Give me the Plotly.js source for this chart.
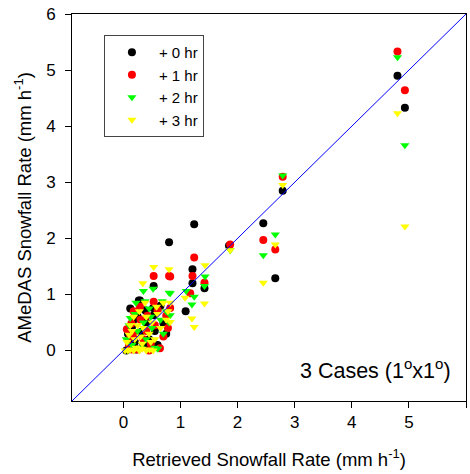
<!DOCTYPE html>
<html>
<head>
<meta charset="utf-8">
<script src="https://cdn.plot.ly/plotly-3.0.1.min.js"></script>
<style>html,body{margin:0;padding:0;background:#fff;}#chart{width:470px;height:474px;}</style>
</head>
<body>
<div id="chart"></div>
<script>
// Series names
const seriesNames = ["+ 0 hr", "+ 1 hr", "+ 2 hr", "+ 3 hr"];

// +0 hr (black circles)
const x0 = [4.80, 4.93, 2.79, 2.45, 2.66, 1.24, 0.80, 1.85, 1.21, 1.21, 1.42, 1.09, 0.53, 0.29, 0.52,
            0.05, 0.10, 0.15, 0.08, 0.20, 0.25, 0.31, 0.35, 0.40, 0.45, 0.53, 0.55, 0.60, 0.70, 0.27, 0.12, 0.18, 0.65, 0.75, 0.38, 0.22, 0.48];
const y0 = [4.90, 4.33, 2.85, 2.27, 1.29, 2.25, 1.93, 1.87, 1.45, 1.20, 1.11, 0.70, 1.15, 0.89, 0.76,
            0.00, 0.05, 0.42, 0.30, 0.15, 0.60, 0.33, 0.10, 0.50, 0.20, 0.63, 0.35, 0.10, 0.49, 0.89, 0.75, 0.55, 0.80, 0.30, 0.72, 0.02, 0.05];

// +1 hr (red circles)
const x1 = [4.80, 4.93, 2.79, 2.45, 2.66, 1.87, 1.24, 1.21, 1.42, 1.17, 0.53, 0.80, 0.82, 0.29, 0.53, 0.82,
            0.06, 0.10, 0.14, 0.20, 0.25, 0.30, 0.35, 0.42, 0.48, 0.55, 0.60, 0.64, 0.70, 0.75, 0.78, 0.18, 0.40, 0.15, 0.45, 0.12];
const y1 = [5.33, 4.64, 3.10, 1.97, 1.80, 1.89, 1.66, 1.33, 1.21, 1.02, 1.33, 1.33, 0.76, 0.78, 0.87, 1.32,
            0.38, 0.10, 0.48, 0.30, 0.02, 0.55, 0.20, 0.62, 0.12, 0.45, 0.72, 0.04, 0.25, 0.62, 0.40, 0.70, 0.35, 0.02, 0.00, 0.25];

// +2 hr (green triangles)
const x2 = [4.80, 4.93, 2.79, 2.66, 2.45, 1.87, 1.43, 1.42, 1.10, 1.24, 1.20, 0.80, 0.35, 0.52, 0.68, 0.82, 0.82,
            0.05, 0.10, 0.15, 0.20, 0.25, 0.30, 0.35, 0.40, 0.45, 0.50, 0.55, 0.60, 0.65, 0.70, 0.75, 0.80, 0.22, 0.38, 0.12, 0.48];
const y2 = [5.23, 3.66, 3.12, 2.07, 1.70, 1.79, 1.32, 1.15, 1.06, 0.96, 0.82, 1.03, 1.06, 1.10, 0.88, 0.63, 1.02,
            0.20, 0.45, 0.10, 0.65, 0.35, 0.05, 0.50, 0.20, 0.75, 0.40, 0.05, 0.03, 0.55, 0.30, 0.70, 0.50, 0.85, 0.88, 0.58, 0.60];

// +3 hr (yellow triangles)
const x3 = [4.80, 4.93, 2.79, 2.66, 2.45, 1.87, 1.43, 1.42, 1.08, 1.20, 1.24, 0.53, 0.80, 0.34, 0.82, 0.82,
            0.03, 0.08, 0.12, 0.18, 0.22, 0.28, 0.33, 0.40, 0.46, 0.52, 0.06, 0.10, 0.15, 0.20, 0.25, 0.30, 0.35, 0.40,
            0.45, 0.50, 0.55, 0.60, 0.65, 0.70, 0.75, 0.78, 0.38, 0.18, 0.28, 0.58, 0.12, 0.33, 0.48];
const y3 = [4.23, 2.21, 2.95, 1.89, 1.21, 1.79, 1.52, 0.84, 0.94, 0.57, 0.42, 1.49, 1.45, 1.20, 0.51, 0.85,
            0.00, 0.00, 0.02, 0.00, 0.05, 0.00, 0.03, 0.00, 0.02, 0.00, 0.15, 0.28, 0.35, 0.20, 0.45, 0.25, 0.40, 0.60,
            0.30, 0.50, 0.20, 0.65, 0.40, 0.85, 0.55, 0.70, 0.85, 0.60, 0.70, 0.78, 0.45, 0.12, 0.15];

// 1:1 reference line endpoints (axis range)
const oneToOne = [-0.9, 6];
const tickValues = [0, 1, 2, 3, 4, 5, 6];

const font = "Liberation Sans, Arial, sans-serif";

const traces = [
  {x: x0, y: y0, name: seriesNames[0], mode: "markers", type: "scatter",
   marker: {symbol: "circle", size: 8, color: "#000000"}},
  {x: x1, y: y1, name: seriesNames[1], mode: "markers", type: "scatter",
   marker: {symbol: "circle", size: 8, color: "#ff0000"}},
  {x: x2, y: y2, name: seriesNames[2], mode: "markers", type: "scatter",
   marker: {symbol: "triangle-down", size: 8, color: "#00ff00"}},
  {x: x3, y: y3, name: seriesNames[3], mode: "markers", type: "scatter",
   marker: {symbol: "triangle-down", size: 8, color: "#ffff00"}},
  {x: oneToOne, y: oneToOne, mode: "lines", type: "scatter", showlegend: false,
   line: {color: "#0000ff", width: 1}, hoverinfo: "skip"}
];

const layout = {
  width: 470, height: 474,
  margin: {l: 72, r: 4, t: 14, b: 73},
  paper_bgcolor: "#ffffff", plot_bgcolor: "#ffffff",
  font: {family: font, color: "#000000", size: 16},
  showlegend: true,
  legend: {
    x: 0.081, y: 0.946, xanchor: "left", yanchor: "top",
    bordercolor: "#444444", borderwidth: 1, bgcolor: "#ffffff",
    font: {family: font, size: 15, color: "#000"},
    itemwidth: 44, tracegroupgap: 0
  },
  xaxis: {
    range: [-0.9, 6], tickvals: tickValues, ticktext: tickValues.map(String),
    ticks: "outside", ticklen: 6, tickcolor: "#000", showline: true, mirror: true,
    linecolor: "#000", linewidth: 1, showgrid: false, zeroline: false,
    tickfont: {family: font, size: 17},
    title: {text: "Retrieved Snowfall Rate (mm h<sup>-1</sup>)", font: {family: font, size: 18.5}, standoff: 21}
  },
  yaxis: {
    range: [-0.9, 6], tickvals: tickValues, ticktext: tickValues.map(String),
    ticks: "outside", ticklen: 6, tickcolor: "#000", showline: true, mirror: true,
    linecolor: "#000", linewidth: 1, showgrid: false, zeroline: false,
    tickfont: {family: font, size: 17}, ticklabelstandoff: 6,
    title: {text: "AMeDAS Snowfall Rate (mm h<sup>-1</sup>)", font: {family: font, size: 18.5}, standoff: 9}
  },
  annotations: [{
    xref: "paper", yref: "paper", x: 0.967, y: 0.083, xanchor: "right", yanchor: "middle",
    text: "3 Cases (1<sup>o</sup>x1<sup>o</sup>)", showarrow: false,
    font: {family: font, size: 21.5, color: "#000"}
  }]
};

Plotly.newPlot("chart", traces, layout, {staticPlot: true, displayModeBar: false});
</script>
</body>
</html>
